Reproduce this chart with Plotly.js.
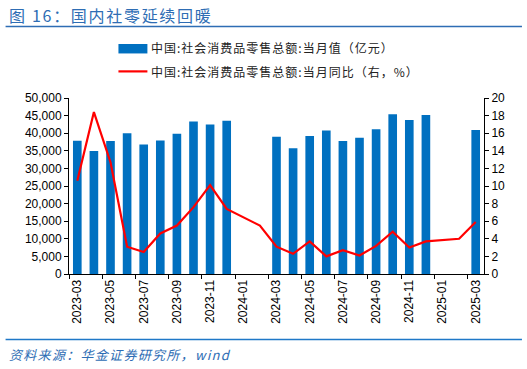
<!DOCTYPE html>
<html>
<head>
<meta charset="utf-8">
<script src="https://cdn.plot.ly/plotly-3.0.1.min.js"></script>
<style>
html,body{margin:0;padding:0;background:#fff;}
#chart{width:527px;height:369px;}
</style>
</head>
<body>
<div id="chart"></div>
<script>
const months = ["2023-03","2023-04","2023-05","2023-06","2023-07","2023-08","2023-09","2023-10","2023-11","2023-12",
  "2024-01","2024-02","2024-03","2024-04","2024-05","2024-06","2024-07","2024-08","2024-09","2024-10","2024-11","2024-12",
  "2025-01","2025-02","2025-03"];
const retailValue = [37855,34910,37803,39951,36761,37933,39826,43333,42505,43550,
  null,null,39020,35699,39211,40732,37757,38726,41112,45396,43763,45172,
  null,null,40940];
const retailYoY = [10.6,18.4,12.7,3.1,2.5,4.6,5.5,7.6,10.1,7.4,
  null,5.5,3.1,2.3,3.7,2.0,2.7,2.1,3.2,4.8,3.0,3.7,
  null,4.0,5.9];
const barName = "中国:社会消费品零售总额:当月值（亿元）";
const lineName = "中国:社会消费品零售总额:当月同比（右，%）";
const titleText = "图 16：国内社零延续回暖";
const sourceText = "资料来源：华金证券研究所，wind";

const blue = "#0070C0";
const red = "#FF0000";
const titleBlue = "#2E6DB4";

const traces = [
  {type:"bar", x:months, y:retailValue, name:barName, marker:{color:blue}, yaxis:"y", showlegend:false},
  {type:"scatter", mode:"lines", x:months, y:retailYoY, name:lineName, connectgaps:true,
   line:{color:red, width:2.2}, yaxis:"y2", showlegend:false}
];

const tickFont = {family:"Liberation Sans, Arial, sans-serif", size:12, color:"#000"};
const cjk = "Noto Sans CJK SC, sans-serif";
const L = 68.5, W = 415.5, B = 274.3, H = 176.6;
const px = v => (v - L) / W;
const py = v => (B - v) / H;

const layout = {
  width:527, height:369,
  margin:{l:L, r:527-L-W, t:B-H, b:369-B},
  paper_bgcolor:"#fff", plot_bgcolor:"#fff",
  bargap:0.48,
  xaxis:{type:"category", categoryorder:"array", categoryarray:months,
    tickmode:"linear", tick0:0, dtick:2, tickson:"boundaries",
    ticks:"outside", ticklen:4, tickcolor:"#000", tickangle:-90,
    showline:true, linecolor:"#000", linewidth:1, showgrid:false,
    tickfont:tickFont, range:[-0.5,24.5], fixedrange:true},
  yaxis:{range:[0,50000], dtick:5000, tickformat:",", ticks:"outside", ticklen:4,
    tickcolor:"#000", showline:true, linecolor:"#000", linewidth:1, showgrid:false,
    zeroline:false, tickfont:tickFont},
  yaxis2:{range:[0,20], dtick:2, overlaying:"y", side:"right", ticks:"outside", ticklen:4,
    tickcolor:"#000", showline:true, linecolor:"#000", linewidth:1, showgrid:false,
    zeroline:false, tickfont:tickFont},
  shapes:[
    {type:"line", xref:"paper", yref:"paper", x0:px(5), x1:px(522), y0:py(26), y1:py(26), line:{color:titleBlue,width:1.5}},
    {type:"line", xref:"paper", yref:"paper", x0:px(5), x1:px(522), y0:py(340), y1:py(340), line:{color:"#1F78C8",width:1.5}},
    {type:"rect", xref:"paper", yref:"paper", x0:px(118), x1:px(147), y0:py(53), y1:py(43.5), fillcolor:blue, line:{width:0}},
    {type:"line", xref:"paper", yref:"paper", x0:px(118), x1:px(147), y0:py(71), y1:py(71), line:{color:red,width:2.2}}
  ],
  annotations:[
    {text:titleText, xref:"paper", yref:"paper", x:px(6), y:py(14), xanchor:"left", yanchor:"middle", showarrow:false,
     font:{family:cjk, size:16, color:titleBlue}},
    {text:sourceText, xref:"paper", yref:"paper", x:px(6), y:py(355), xanchor:"left", yanchor:"middle", showarrow:false,
     font:{family:cjk, size:13, color:"#2E6DB4", style:"italic"}},
    {text:barName, xref:"paper", yref:"paper", x:px(149), y:py(47.5), xanchor:"left", yanchor:"middle", showarrow:false,
     font:{family:cjk, size:12, color:"#222"}},
    {text:lineName, xref:"paper", yref:"paper", x:px(149), y:py(71), xanchor:"left", yanchor:"middle", showarrow:false,
     font:{family:cjk, size:12, color:"#222"}}
  ]
};
Plotly.newPlot("chart", traces, layout, {displayModeBar:false, staticPlot:true}).then(() => {
  const spacing = ["1.7px", "1.3px", "1px", "1px"];
  document.querySelectorAll("#chart .annotation-text").forEach((el, i) => {
    if (!spacing[i]) return;
    const before = el.getBBox().x;
    el.style.letterSpacing = spacing[i];
    const after = el.getBBox().x;
    const dx = before - after;
    el.setAttribute("x", parseFloat(el.getAttribute("x") || 0) + dx);
    el.querySelectorAll("tspan[x]").forEach(t => t.setAttribute("x", parseFloat(t.getAttribute("x")) + dx));
  });
});
</script>
</body>
</html>
